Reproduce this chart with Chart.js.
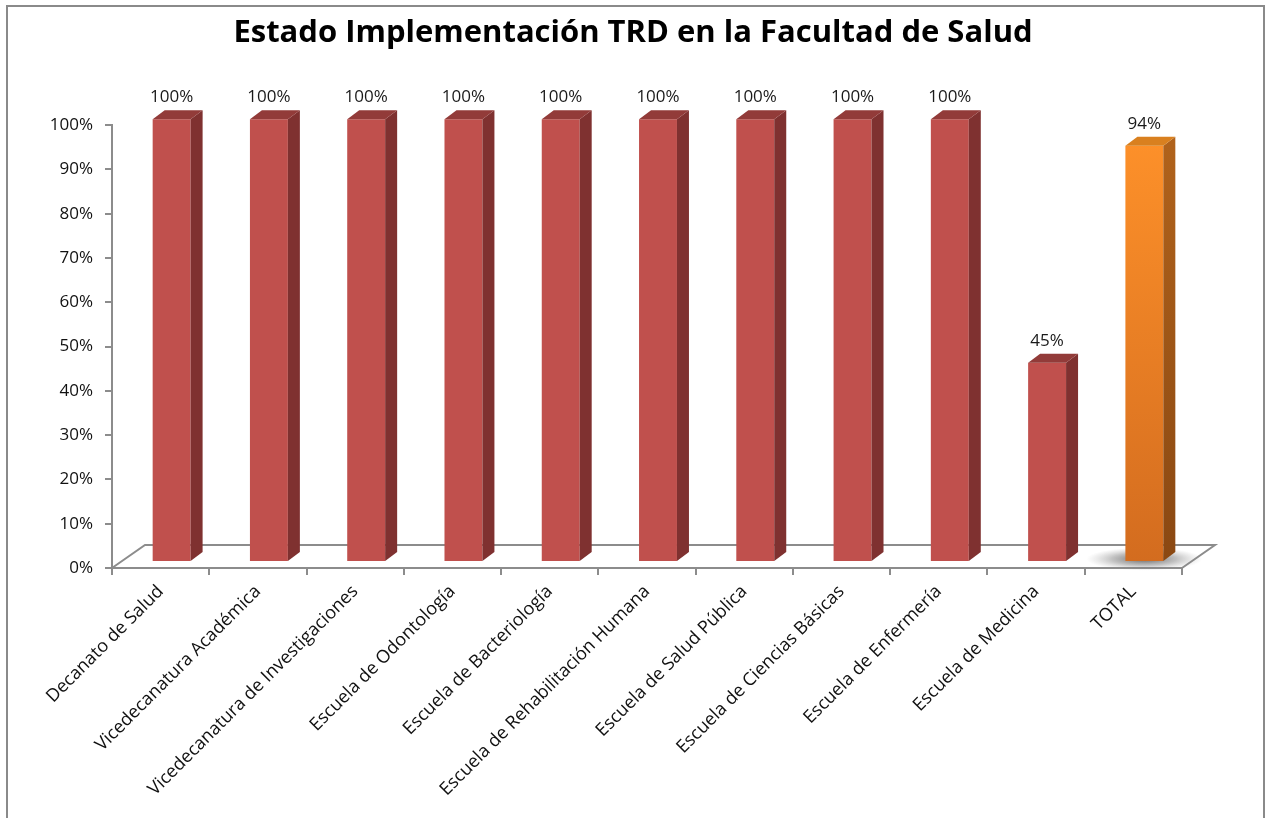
<!DOCTYPE html>
<html>
<head>
<meta charset="utf-8">
<title>Estado Implementación TRD en la Facultad de Salud</title>
<script src="https://cdn.jsdelivr.net/npm/chart.js@4.4.1/dist/chart.umd.min.js"></script>
<style>
  html, body { margin: 0; padding: 0; background: #ffffff; }
  #wrap { position: relative; width: 1266px; height: 818px; }
</style>
</head>
<body>
<div id="wrap"><canvas id="trdChart"></canvas></div>
<script>
// Dependencias de la facultad (eje X)
const dependencias = [
    "Decanato de Salud",
    "Vicedecanatura Académica",
    "Vicedecanatura de Investigaciones",
    "Escuela de Odontología",
    "Escuela de Bacteriología",
    "Escuela de Rehabilitación Humana",
    "Escuela de Salud Pública",
    "Escuela de Ciencias Básicas",
    "Escuela de Enfermería",
    "Escuela de Medicina",
    "TOTAL"
];

// Porcentaje de implementación TRD por dependencia
const implementacion = [100, 100, 100, 100, 100, 100, 100, 100, 100, 45, 94];

// Marcas del eje Y (porcentaje)
const yTicks = [0, 10, 20, 30, 40, 50, 60, 70, 80, 90, 100];

const FONT = "'Open Sans', 'Noto Sans', sans-serif";

// 3D look: bars sit a bit behind the front edge of the floor
const SHIFT_X = 11, SHIFT_Y = -6;
const DEPTH_X = 12, DEPTH_Y = -9;
const FLOOR_X = 33, FLOOR_Y = -23;

function isTotal(i) {
    return dependencias[i] === "TOTAL";
}

const bars3d = {
    id: "bars3d",
    beforeDraw(chart) {
        // outer frame of the picture
        const ctx = chart.ctx;
        ctx.save();
        ctx.strokeStyle = "#8a8a8a";
        ctx.lineWidth = 2;
        ctx.strokeRect(7, 6, chart.width - 9, chart.height + 10);
        ctx.restore();
    },
    beforeDatasetsDraw(chart) {
        const { ctx, chartArea: a } = chart;
        ctx.save();
        // floor
        ctx.strokeStyle = "#8c8c8c";
        ctx.lineWidth = 2;
        ctx.beginPath();
        ctx.moveTo(a.left, a.bottom);
        ctx.lineTo(a.left + FLOOR_X, a.bottom + FLOOR_Y);
        ctx.lineTo(a.right + FLOOR_X, a.bottom + FLOOR_Y);
        ctx.lineTo(a.right, a.bottom);
        ctx.stroke();

        // soft shadow under the TOTAL bar
        const meta = chart.getDatasetMeta(0);
        meta.data.forEach((bar, i) => {
            if (!isTotal(i)) return;
            const cx = bar.x + SHIFT_X;
            const cy = bar.base + SHIFT_Y - 2;
            ctx.save();
            ctx.translate(cx, cy);
            ctx.scale(1, 0.2);
            const g = ctx.createRadialGradient(0, 0, 0, 0, 0, 58);
            g.addColorStop(0, "rgba(60,60,60,0.8)");
            g.addColorStop(0.55, "rgba(100,100,100,0.4)");
            g.addColorStop(1, "rgba(150,150,150,0)");
            ctx.fillStyle = g;
            ctx.beginPath();
            ctx.arc(0, 0, 58, 0, Math.PI * 2);
            ctx.fill();
            ctx.restore();
        });
        ctx.restore();

        ctx.save();
        ctx.translate(SHIFT_X, SHIFT_Y);
    },
    afterDatasetsDraw(chart) {
        const ctx = chart.ctx;
        const meta = chart.getDatasetMeta(0);

        meta.data.forEach((bar, i) => {
            const left = bar.x - bar.width / 2;
            const right = bar.x + bar.width / 2;
            const top = bar.y;
            const base = bar.base;

            let sideFill, topFill;
            if (isTotal(i)) {
                sideFill = ctx.createLinearGradient(0, top, 0, base);
                sideFill.addColorStop(0, "#b0621b");
                sideFill.addColorStop(1, "#8a4812");
                topFill = "#d9801f";
            } else {
                sideFill = "#7f3130";
                topFill = "#923b39";
            }

            // right side
            ctx.fillStyle = sideFill;
            ctx.beginPath();
            ctx.moveTo(right, top);
            ctx.lineTo(right + DEPTH_X, top + DEPTH_Y);
            ctx.lineTo(right + DEPTH_X, base + DEPTH_Y);
            ctx.lineTo(right, base);
            ctx.closePath();
            ctx.fill();

            // top
            ctx.fillStyle = topFill;
            ctx.beginPath();
            ctx.moveTo(left, top);
            ctx.lineTo(left + DEPTH_X, top + DEPTH_Y);
            ctx.lineTo(right + DEPTH_X, top + DEPTH_Y);
            ctx.lineTo(right, top);
            ctx.closePath();
            ctx.fill();
        });
        ctx.restore();

        // value labels
        ctx.save();
        ctx.font = "17px " + FONT;
        ctx.fillStyle = "#1a1a1a";
        ctx.textAlign = "center";
        ctx.textBaseline = "middle";
        meta.data.forEach((bar, i) => {
            ctx.fillText(implementacion[i] + "%", bar.x + SHIFT_X, bar.y + SHIFT_Y - 22);
        });
        ctx.restore();
    }
};

const ctx = document.getElementById("trdChart").getContext("2d");

new Chart(ctx, {
    type: "bar",
    data: {
        labels: dependencias,
        datasets: [{
            data: implementacion,
            clip: false,
            barPercentage: 0.39,
            categoryPercentage: 1,
            borderWidth: 0,
            backgroundColor: function(context) {
                const i = context.dataIndex;
                if (!isTotal(i)) return "#c0504d";
                const area = context.chart.chartArea;
                if (!area) return "#f0841f";
                const g = context.chart.ctx.createLinearGradient(0, area.top, 0, area.bottom);
                g.addColorStop(0, "#ff922a");
                g.addColorStop(1, "#d36c1f");
                return g;
            }
        }]
    },
    options: {
        responsive: true,
        maintainAspectRatio: false,
        animation: false,
        layout: {
            padding: { left: 0, right: 0, top: 0, bottom: 0 }
        },
        scales: {
            x: {
                grid: {
                    display: true,
                    drawOnChartArea: false,
                    drawTicks: true,
                    tickLength: 7,
                    color: "#8c8c8c",
                    lineWidth: 2
                },
                border: { display: true, color: "#8c8c8c", width: 2 },
                ticks: {
                    minRotation: 45,
                    maxRotation: 45,
                    autoSkip: false,
                    padding: 6,
                    color: "#111",
                    font: { family: FONT, size: 18 }
                },
                afterFit(scale) {
                    scale.height = 250;
                }
            },
            y: {
                min: 0,
                max: 100,
                afterBuildTicks(scale) {
                    scale.ticks = yTicks.map(v => ({ value: v }));
                },
                grid: {
                    display: true,
                    drawOnChartArea: false,
                    drawTicks: true,
                    tickLength: 7,
                    color: "#8c8c8c",
                    lineWidth: 2
                },
                border: { display: true, color: "#8c8c8c", width: 2 },
                ticks: {
                    padding: 12,
                    color: "#111",
                    font: { family: FONT, size: 17 },
                    callback: function(value) {
                        return value + "%";
                    }
                },
                afterFit(scale) {
                    scale.width = 112;
                }
            },
            // empty right-hand strip so the plot ends where the original does
            spacer: {
                type: "linear",
                position: "right",
                display: true,
                grid: { display: false },
                border: { display: false },
                ticks: { display: false },
                afterFit(scale) {
                    scale.width = 84;
                }
            }
        },
        plugins: {
            legend: { display: false },
            tooltip: { enabled: false },
            title: {
                display: true,
                text: "Estado Implementación TRD en la Facultad de Salud",
                color: "#000",
                font: { family: FONT, size: 31, weight: "bold", lineHeight: 1.2 },
                padding: { top: 15, bottom: 73 }
            }
        }
    },
    plugins: [bars3d]
});
</script>
</body>
</html>
